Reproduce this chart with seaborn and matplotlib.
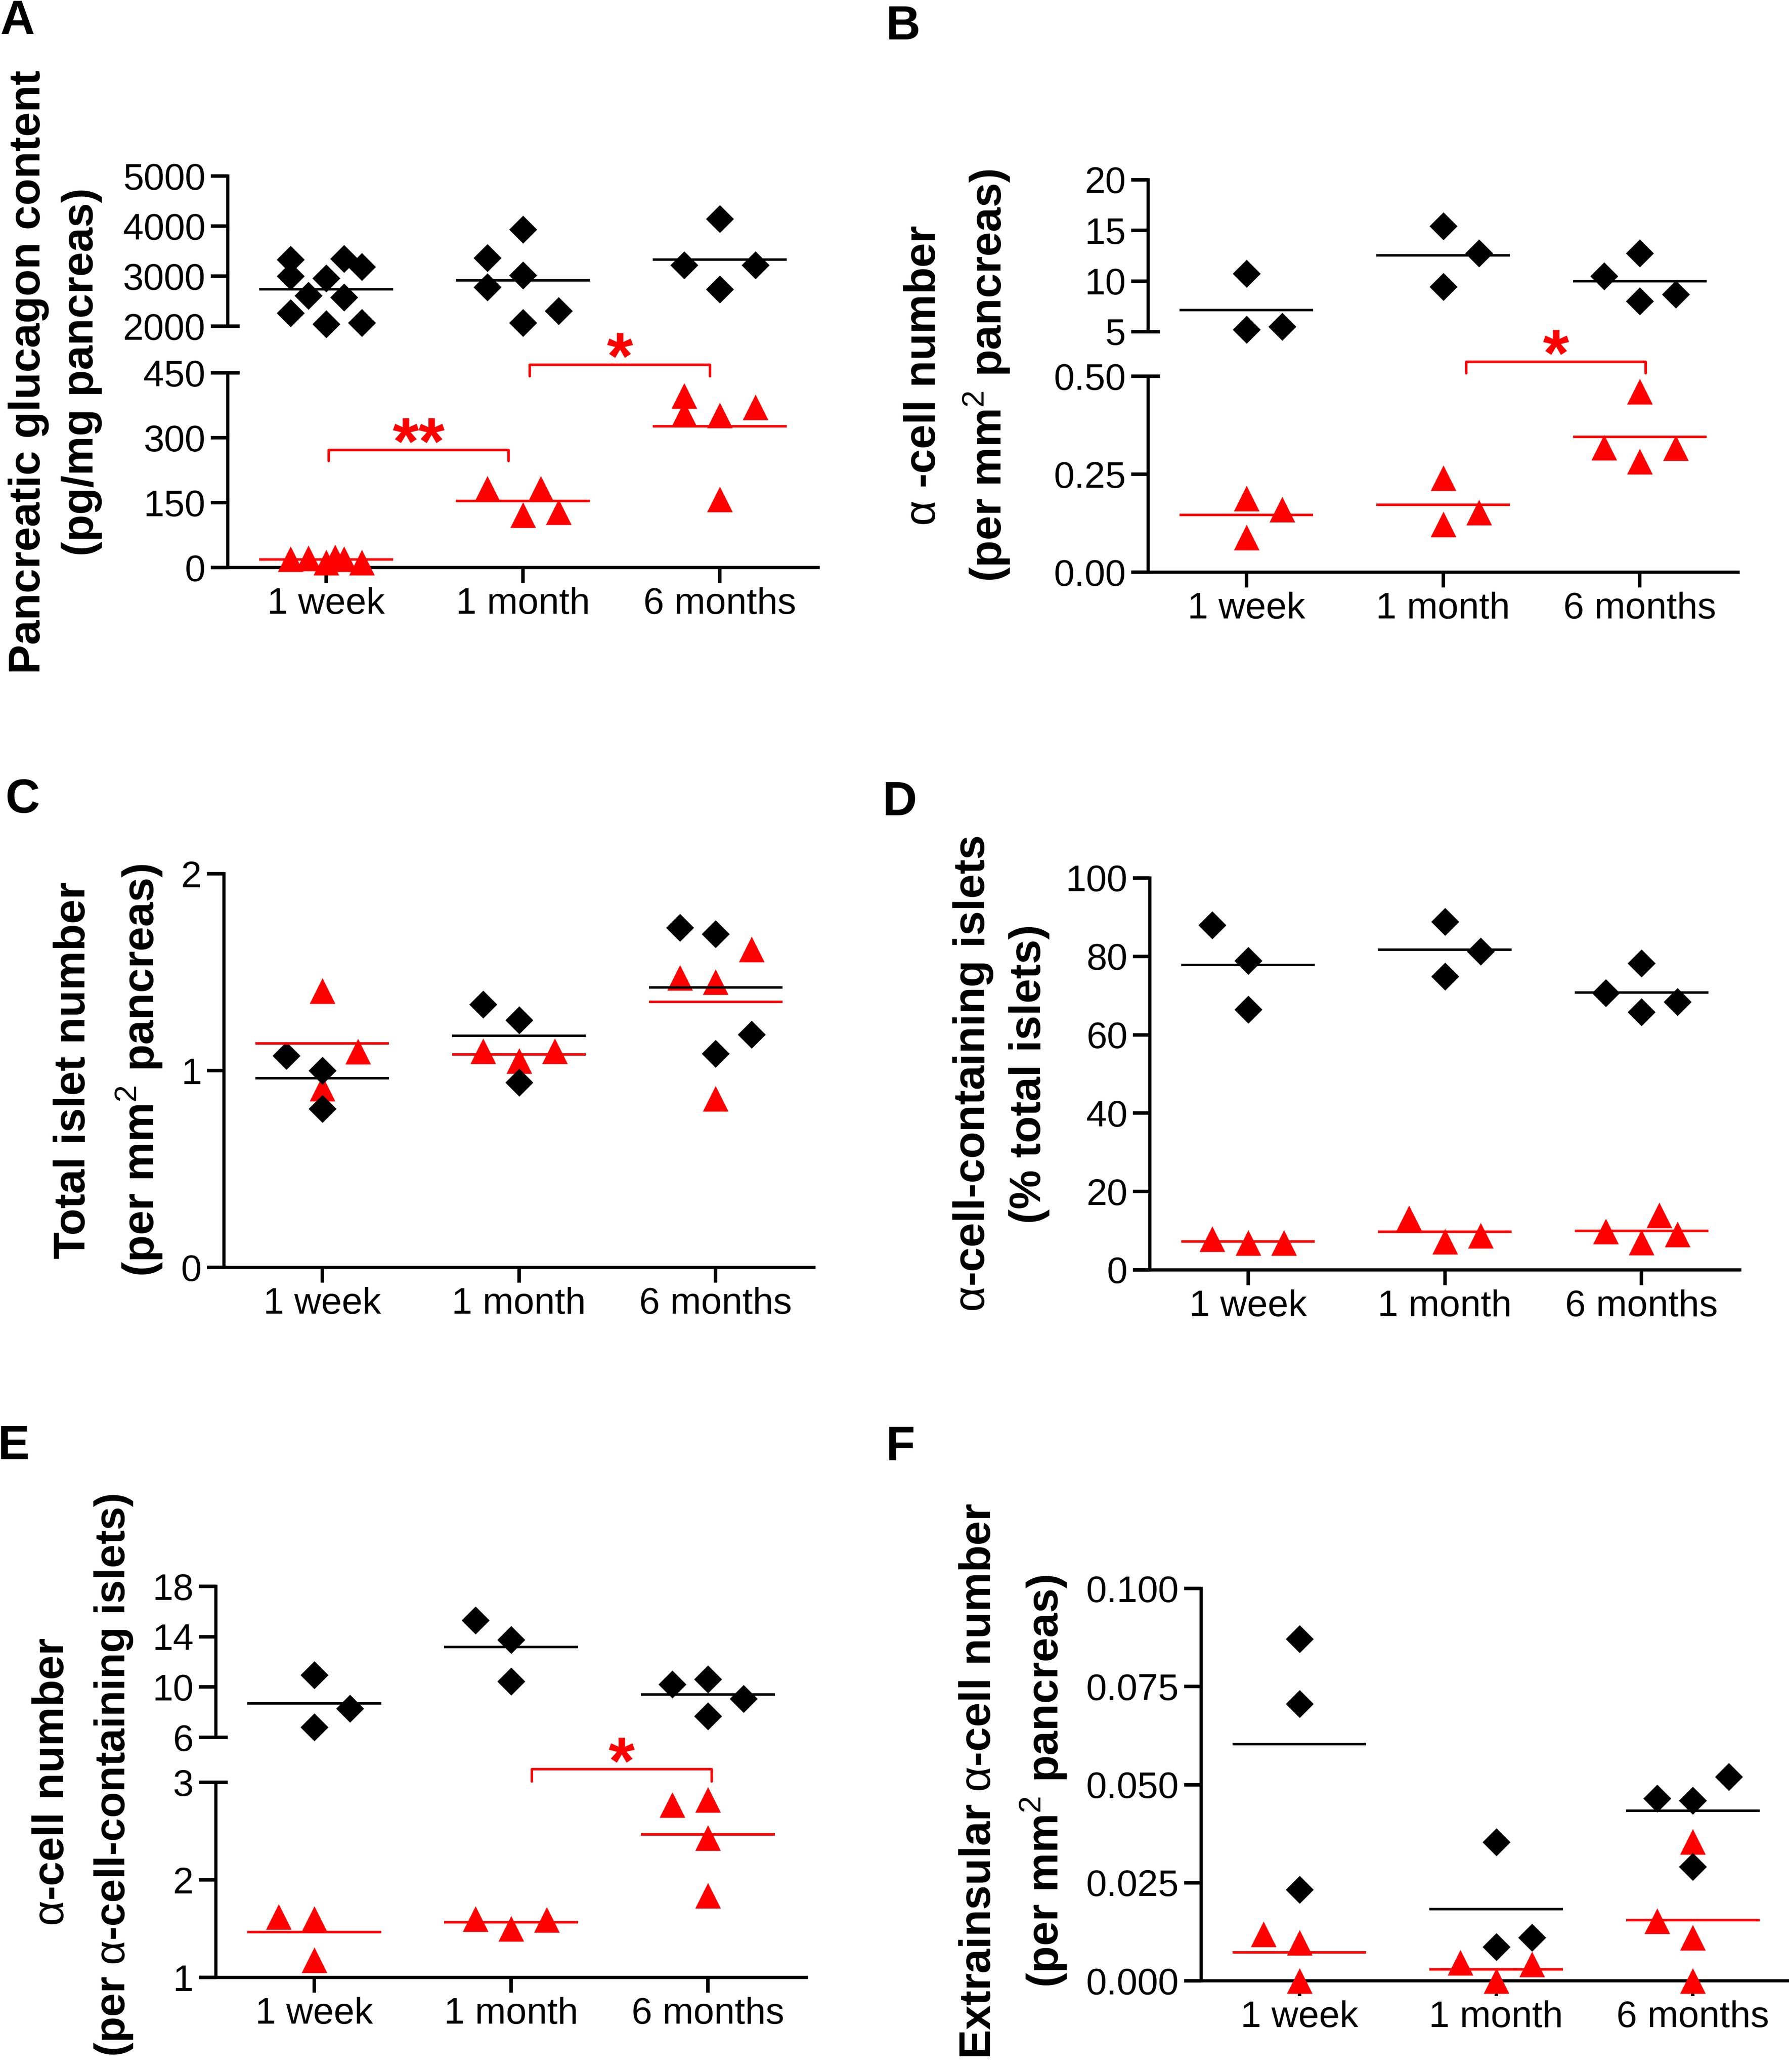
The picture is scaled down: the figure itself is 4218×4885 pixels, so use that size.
import numpy as np
import pandas as pd
import matplotlib
matplotlib.use("Agg")
import matplotlib.pyplot as plt
import seaborn as sns

groups = ["1 week", "1 month", "6 months"]

# A - pancreatic glucagon content (pg/mg pancreas)
glucagon_black = [[3330, 3000, 2960, 2610, 2260, 2040, 3350, 3190, 2580, 2070],
                  [3365, 3930, 3017, 2783, 2070, 2304],
                  [4148, 3217, 3217, 2739]]
glucagon_red = [[20, 22, 12, 24, 20, 12],
                [182, 122, 182, 128],
                [397, 355, 352, 371, 158]]

# B - alpha-cell number (per mm2 pancreas)
alpha_black = [[10.73, 5.2, 5.5], [15.45, 12.75, 9.44], [12.75, 10.5, 8.0, 8.67]]
alpha_red = [[0.188, 0.16, 0.089], [0.24, 0.122, 0.153], [0.461, 0.318, 0.283, 0.317]]

# C - total islet number (per mm2 pancreas)
islet_black = [[1.076, 1.0, 0.806], [1.336, 1.257, 0.94], [1.726, 1.693, 1.183, 1.086]]
islet_red = [[1.405, 1.097, 0.91], [1.099, 1.05, 1.099], [1.617, 1.472, 1.45, 0.858]]

# D - alpha-cell-containing islets (% total islets)
containing_black = [[88.0, 78.9, 66.5], [88.8, 81.3, 74.9], [78.2, 70.7, 65.8, 68.4]]
containing_red = [[7.9, 6.9, 6.9], [13.2, 7.3, 8.8], [9.9, 7.0, 14.0, 9.1]]

# E - alpha-cell number per alpha-cell-containing islet
per_islet_black = [[10.97, 8.3, 6.8], [15.3, 13.75, 10.45], [10.2, 10.63, 9.06, 7.67]]
per_islet_red = [[1.62, 1.6, 1.18], [1.6, 1.5, 1.59], [2.77, 2.82, 2.43, 1.84]]

# F - extrainsular alpha-cell number (per mm2 pancreas)
extra_black = [[0.0871, 0.0706, 0.0232], [0.0353, 0.0086, 0.011], [0.0465, 0.046, 0.052, 0.0291]]
extra_red = [[0.0119, 0.0097, 0.0], [0.0047, 0.0, 0.0042], [0.0152, 0.0355, 0.011, 0.0]]

# scatter columns (half marker steps) the way the points are spread in each group
glucagon_black_cols = [[-2, -2, 0, -1, -2, 0, 1, 2, 1, 2], [-2, 0, 0, -2, 0, 2], [0, -2, 2, 0]]
glucagon_red_cols = [[-2, -1, 0, 0.5, 1, 2], [-2, 0, 1, 2], [-2, -2, 0, 2, 0]]
alpha_black_cols = [[0, 0, 2], [0, 2, 0], [0, -2, 0, 2]]
alpha_red_cols = [[0, 2, 0], [0, 0, 2], [0, -2, 0, 2]]
islet_black_cols = [[-2, 0, 0], [-2, 0, 0], [-2, 0, 2, 0]]
islet_red_cols = [[0, 2, 0], [-2, 0, 2], [2, -2, 0, 0]]
containing_black_cols = [[-2, 0, 0], [0, 2, 0], [0, -2, 0, 2]]
containing_red_cols = [[-2, 0, 2], [-2, 0, 2], [-2, 0, 1, 2]]
per_islet_black_cols = [[0, 2, 0], [-2, 0, 0], [-2, 0, 2, 0]]
per_islet_red_cols = [[-2, 0, 0], [-2, 0, 2], [-2, 0, 0, 0]]
extra_black_cols = [[0, 0, 0], [0, 0, 2], [-2, 0, 2, 0]]
extra_red_cols = [[-2, 0, 0], [-2, 0, 2], [-2, 0, 0, 0]]

W, H = 4218, 4885
STEP = 0.091
HALF = 0.34
RED = "#ff0000"
DIAMOND_S = 125
TRIANGLE_S = 210
SPINE_W = 1.8
TICK_W = 2.0
MEAN_W = 1.4
TICK_FS = 21
LABEL_FS = 25

sns.set_style("ticks", {"axes.edgecolor": "black", "xtick.color": "black",
                        "ytick.color": "black", "text.color": "black"})
plt.rcParams["font.family"] = ["Liberation Sans", "DejaVu Sans"]
plt.rcParams["mathtext.fontset"] = "custom"
plt.rcParams["mathtext.rm"] = "Liberation Sans"
plt.rcParams["mathtext.bf"] = "Liberation Sans:bold"

fig = plt.figure(figsize=(W / 300, H / 300), dpi=300)


def add_axes(left, top, right, bottom):
    # box given in pixels of the output image
    return fig.add_axes([left / W, 1 - bottom / H, (right - left) / W, (bottom - top) / H])


def points(ax, values, cols, color, marker, size, z):
    xs, ys = [], []
    for g, (vals, cs) in enumerate(zip(values, cols)):
        xs += [g + c * STEP for c in cs]
        ys += list(vals)
    df = pd.DataFrame({"x": xs, "y": ys})
    sns.scatterplot(data=df, x="x", y="y", ax=ax, marker=marker, color=color, s=size,
                    linewidth=0, clip_on=False, zorder=z, legend=False)
    for g, vals in enumerate(values):
        ax.hlines(np.mean(vals), g - HALF, g + HALF, color=color, lw=MEAN_W, zorder=z + 2)


def setup(ax, ylim, ticks, labels, with_x=True):
    ax.set_xlim(-0.5, 2.5)
    ax.set_ylim(*ylim)
    ax.set_yticks(ticks)
    ax.set_yticklabels(labels)
    ax.set_xlabel("")
    ax.set_ylabel("")
    ax.patch.set_visible(False)
    sns.despine(ax=ax, bottom=not with_x)
    for s in ax.spines.values():
        s.set_linewidth(SPINE_W)
    ax.tick_params(axis="y", length=9.6, width=TICK_W, pad=3, labelsize=TICK_FS)
    if with_x:
        ax.set_xticks(range(3))
        ax.set_xticklabels(groups)
        ax.tick_params(axis="x", length=8.6, width=TICK_W, pad=2.5, labelsize=TICK_FS)
    else:
        ax.set_xticks([])


def break_mark(ax, y):
    ax.plot([0, 0.02], [y, y], transform=ax.get_yaxis_transform(), color="black",
            lw=TICK_W, clip_on=False, solid_capstyle="butt")


def bracket(ax, x0, x1, y, y_end, text):
    ax.plot([x0, x0, x1, x1], [y_end, y, y, y_end], color=RED, lw=MEAN_W,
            clip_on=False, zorder=6)
    ax.annotate(text, xy=((x0 + x1) / 2, y), xytext=(0, -8), textcoords="offset points",
                ha="center", va="baseline", color=RED, fontsize=38, fontweight="bold",
                annotation_clip=False)


def ylabel(x_px, y_px, text, size=LABEL_FS):
    fig.text(x_px / W, 1 - y_px / H, text, rotation=90, rotation_mode="anchor",
             ha="center", va="baseline", fontsize=size, fontweight="bold")


def panel_letter(x_px, y_px, letter):
    fig.text(x_px / W, 1 - y_px / H, letter, fontsize=27, fontweight="bold", va="baseline")


# ---- A ----
a_up = add_axes(537, 415, 1929, 769)
a_lo = add_axes(537, 879, 1929, 1338)
points(a_up, glucagon_black, glucagon_black_cols, "black", "D", DIAMOND_S, 4)
points(a_lo, glucagon_red, glucagon_red_cols, RED, "^", TRIANGLE_S, 3)
setup(a_up, (2000, 5000), [2000, 3000, 4000, 5000], ["2000", "3000", "4000", "5000"], with_x=False)
setup(a_lo, (0, 450), [0, 150, 300, 450], ["0", "150", "300", "450"])
break_mark(a_up, 2000)
break_mark(a_lo, 450)
bracket(a_lo, 0.014, 0.927, 272, 246, "**")
bracket(a_lo, 1.035, 1.951, 469, 442, "*")

# ---- B ----
b_up = add_axes(2707, 424, 4098, 782)
b_lo = add_axes(2707, 887, 4098, 1349)
points(b_up, alpha_black, alpha_black_cols, "black", "D", DIAMOND_S, 4)
points(b_lo, alpha_red, alpha_red_cols, RED, "^", TRIANGLE_S, 3)
setup(b_up, (5, 20), [5, 10, 15, 20], ["5", "10", "15", "20"], with_x=False)
setup(b_lo, (0, 0.5), [0, 0.25, 0.5], ["0.00", "0.25", "0.50"])
break_mark(b_up, 5)
break_mark(b_lo, 0.5)
bracket(b_lo, 1.118, 2.03, 0.537, 0.508, "*")

# ---- C ----
c_ax = add_axes(528, 2060, 1919, 2988)
points(c_ax, islet_red, islet_red_cols, RED, "^", TRIANGLE_S, 3)
points(c_ax, islet_black, islet_black_cols, "black", "D", DIAMOND_S, 4)
setup(c_ax, (0, 2), [0, 1, 2], ["0", "1", "2"])

# ---- D ----
d_ax = add_axes(2711, 2070, 4102, 2994)
points(d_ax, containing_red, containing_red_cols, RED, "^", TRIANGLE_S, 3)
points(d_ax, containing_black, containing_black_cols, "black", "D", DIAMOND_S, 4)
setup(d_ax, (0, 100), [0, 20, 40, 60, 80, 100], ["0", "20", "40", "60", "80", "100"])

# ---- E ----
e_up = add_axes(509, 3740, 1901, 4096)
e_lo = add_axes(509, 4202, 1901, 4662)
points(e_up, per_islet_black, per_islet_black_cols, "black", "D", DIAMOND_S, 4)
points(e_lo, per_islet_red, per_islet_red_cols, RED, "^", TRIANGLE_S, 3)
setup(e_up, (6, 18), [6, 10, 14, 18], ["6", "10", "14", "18"], with_x=False)
setup(e_lo, (1, 3), [1, 2, 3], ["1", "2", "3"])
break_mark(e_up, 6)
break_mark(e_lo, 3)
bracket(e_lo, 1.105, 2.019, 3.133, 3.009, "*")

# ---- F ----
f_ax = add_axes(2832, 3745, 4223, 4670)
points(f_ax, extra_red, extra_red_cols, RED, "^", TRIANGLE_S, 3)
points(f_ax, extra_black, extra_black_cols, "black", "D", DIAMOND_S, 4)
setup(f_ax, (0, 0.1), [0, 0.025, 0.05, 0.075, 0.1],
      ["0.000", "0.025", "0.050", "0.075", "0.100"])

# axis titles
ylabel(94, 877, "Pancreatic glucagon content")
ylabel(219, 877, "(pg/mg pancreas)")
ylabel(2205, 886, r"$\mathrm{\alpha}$ -cell number")
ylabel(2360, 886, r"(per mm$^{\mathrm{2}}$ pancreas)")
ylabel(200, 2524, "Total islet number")
ylabel(362, 2524, r"(per mm$^{\mathrm{2}}$ pancreas)")
ylabel(2321, 2532, r"$\mathrm{\alpha}$-cell-containing islets")
ylabel(2453, 2532, "(% total islets)")
ylabel(150, 4201, r"$\mathrm{\alpha}$-cell number")
ylabel(294, 4185, r"(per $\mathrm{\alpha}$-cell-containing islets)", size=24)
ylabel(2335, 4200, r"Extrainsular $\mathrm{\alpha}$-cell number")
ylabel(2494, 4200, r"(per mm$^{\mathrm{2}}$ pancreas)")

for x, y, letter in [(0, 80, "A"), (2088, 93, "B"), (12, 1916, "C"),
                     (2080, 1922, "D"), (-5, 3440, "E"), (2088, 3442, "F")]:
    panel_letter(x, y, letter)

fig.savefig("out.png", dpi=300)
